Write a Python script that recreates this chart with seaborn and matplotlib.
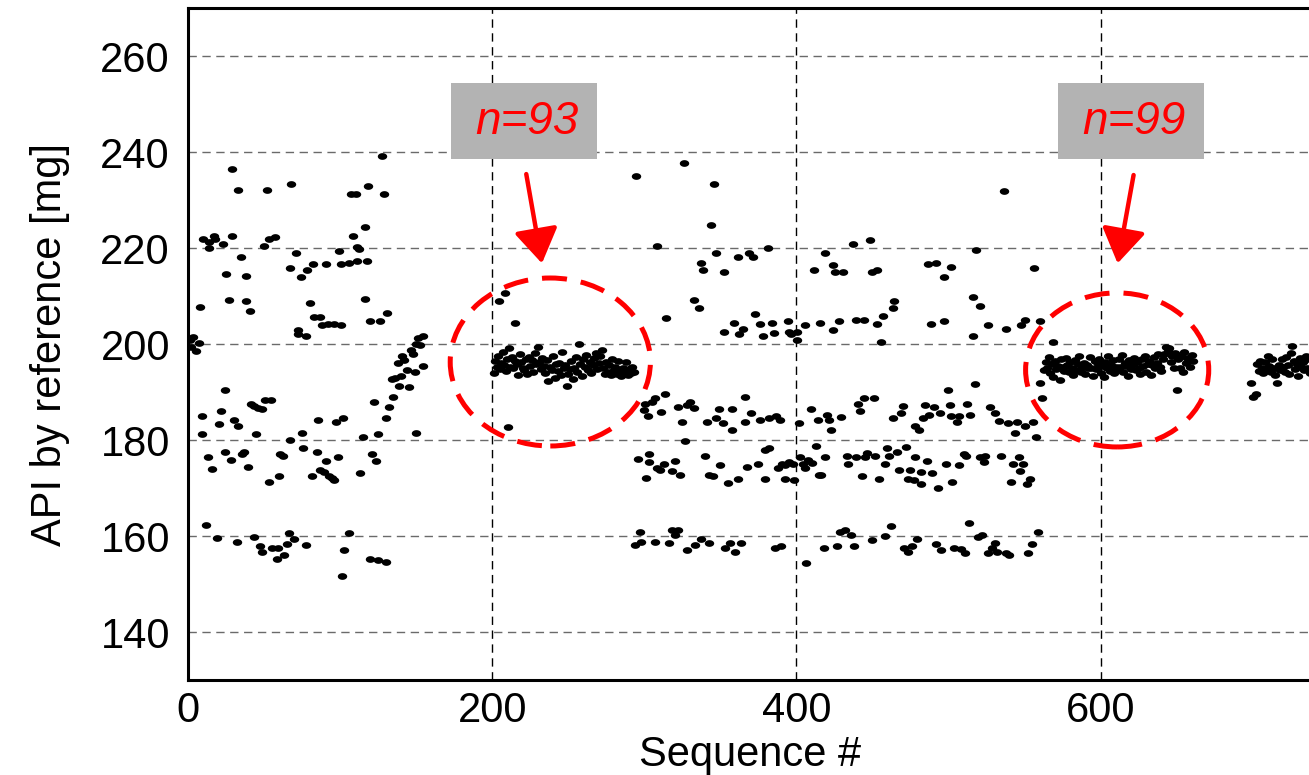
import numpy as np
import pandas as pd
import matplotlib
matplotlib.use("Agg")
import matplotlib.pyplot as plt
import matplotlib.path as mpath
from matplotlib.patches import Ellipse, Rectangle
import seaborn as sns

# ---------------- data: (sequence #, API mg) ----------------
run_start = [(1, 200.8), (2, 199.4), (3, 201.4), (5, 198.5), (7, 200.3)]

run_a_high = [(29, 236.5), (33, 232.1), (52, 232.1), (68, 233.3),
              (10, 221.9), (14, 221.3), (14, 220.1), (17, 222.4), (18, 221.9), (23, 220.8),
              (29, 222.5), (50, 220.5), (53, 221.8), (57, 222.2), (71, 219.0), (99.5, 219.4),
              (35, 218.1), (25, 214.5), (38, 214.2), (67, 215.8), (74, 214.0), (78.5, 215.5),
              (82, 216.7), (91, 216.7), (100.6, 216.7),
              (8, 207.8), (27, 209.2), (38, 209.0), (41, 206.8), (80, 208.6), (83, 205.6),
              (87, 205.6), (88, 203.9), (92, 204.2), (96, 204.2), (100.6, 203.9), (72.6, 202.9),
              (72.6, 202.0), (77.4, 201.7),
              (127.6, 239.2), (118.6, 233.0), (107, 231.2), (110.3, 231.2), (128.7, 231.2),
              (116.4, 224.4), (108.8, 222.5), (111.2, 220.3), (112.7, 219.7), (106.1, 216.8),
              (111.4, 217.2), (117.8, 217.2), (116.4, 209.4), (131.1, 206.5), (119.9, 204.7),
              (126.3, 204.7)]

run_a_rise = [(154.2, 201.7), (151.5, 201.2), (152.8, 199.7), (149.8, 200.0), (146.7, 198.8),
              (148, 197.9), (140.6, 197.4), (141.7, 196.7), (137.9, 196.1), (143.8, 194.6),
              (149.3, 194.2), (154.2, 195.4), (139.9, 193.3), (136.2, 193.0), (134, 192.8),
              (138.8, 191.3), (145.4, 191.1), (135.1, 188.9), (122.6, 188.0), (132.4, 186.8),
              (130, 184.5), (115.1, 180.6), (124.8, 181.2), (150.2, 181.4)]

run_a_low = [(24, 190.4), (9, 185.1), (9.4, 181.2), (21.7, 186.1), (20.4, 183.3), (30.5, 184.2),
             (33, 182.9), (41.4, 187.6), (43.4, 187.1), (46.2, 186.6), (48.4, 186.4), (50.6, 188.4),
             (54.6, 188.4), (44.5, 181.2), (67.3, 180.0), (74.8, 181.4), (85.7, 184.2), (97.1, 183.8),
             (102.2, 184.5),
             (12.9, 176.4), (15.5, 174.0), (24.3, 177.4), (28, 175.8), (35.7, 177.1), (37, 177.6),
             (39.2, 174.4), (53.5, 171.3), (59.8, 172.6), (60.7, 177.1), (62.5, 176.7), (75.8, 178.3),
             (84.6, 177.4), (91, 175.6), (81.8, 172.6), (86.8, 173.8), (89.7, 173.4), (92.7, 172.5),
             (94.5, 172.0), (95.8, 171.7), (98.4, 176.4), (121.3, 177.0), (123.9, 175.6), (113.4, 173.2),
             (11.6, 162.2), (19.3, 159.5), (32, 158.8), (43.4, 159.7), (47.3, 158.0), (48.4, 156.7),
             (55.5, 157.6), (59, 157.6), (58.3, 155.3), (63.4, 156.1), (64.9, 158.3), (66.2, 160.6),
             (69.7, 159.4), (77.4, 158.2), (102.8, 157.1), (101.1, 151.7), (106.1, 160.6),
             (119.7, 155.3), (124.8, 155.0), (130, 154.6)]

run_b_extra = [(208.1, 210.7), (204.2, 208.9), (214.7, 204.4), (210.3, 182.8)]

# consistent series 1 (n=93), sequence 201..293
cluster1_seq = list(range(201, 294))
cluster1_api = [193.9, 196.5, 195.2, 197.6, 194.8, 196.1, 198.3, 195.7, 194.4, 196.9,
                199.1, 195.3, 197.2, 194.9, 196.4, 195.8, 193.6, 197.9, 196.2, 195.1,
                194.5, 196.8, 193.7, 197.3, 195.5, 196.6, 194.2, 198.1, 195.9, 199.3,
                196.3, 194.7, 197.0, 195.4, 193.9, 196.7, 192.3, 195.2, 194.6, 197.4,
                193.0, 195.8, 194.3, 196.1, 193.5, 198.4, 194.9, 195.6, 191.2, 193.8,
                194.8, 196.4, 192.8, 195.1, 197.2, 194.2, 200.0, 195.9, 193.4, 196.9,
                195.3, 197.8, 194.5, 196.2, 193.9, 195.7, 197.1, 198.2, 194.8, 196.0,
                197.6, 198.7, 195.0, 193.8, 196.3, 194.1, 195.6, 193.5, 196.8, 194.6,
                195.2, 193.7, 196.5, 194.3, 193.4, 195.1, 194.0, 196.2, 193.6, 194.7,
                193.9, 195.3, 194.2]

run_c = [(325.9, 237.8), (294.7, 234.9), (346, 233.3), (343.6, 224.7), (308.5, 220.5), (347.4, 219.0),
         (337.5, 216.9), (338.6, 215.5), (352.4, 215.1), (361.4, 218.1), (368.6, 219.0), (371.5, 218.1),
         (381.4, 219.9), (332.5, 209.2), (336.2, 207.4), (314.3, 205.5), (372.6, 206.2), (358.8, 204.4),
         (352.4, 202.6), (364.7, 203.2), (362.5, 202.0), (376.3, 204.1), (384, 204.4), (377.9, 201.7),
         (385.3, 202.3), (394.3, 204.7), (395, 202.6), (396.7, 202.0),
         (300.2, 187.6), (300, 186.2), (302.4, 185.0), (305, 188.0), (306.8, 188.7), (311.2, 185.9),
         (313.8, 189.5), (322.1, 186.8), (324.8, 183.8), (328.1, 187.3), (330.3, 188.0), (332.5, 186.6),
         (341.2, 183.8), (347.1, 184.5), (348.9, 186.5), (351.5, 183.6), (357.7, 186.5), (357.7, 182.1),
         (366.4, 188.9), (366.4, 183.8), (370.4, 185.7), (376.3, 184.2), (381.8, 184.5), (386.6, 185.1),
         (389, 184.2), (327, 179.7),
         (295.8, 176.0), (303.3, 177.1), (303.3, 175.5), (308.3, 174.1), (310.1, 173.7), (312.7, 175.1),
         (301.1, 172.0), (320, 175.6), (318.2, 173.6), (323.2, 172.8), (339.7, 176.7), (342.3, 172.8),
         (345, 172.5), (350, 174.7), (355, 171.0), (361.6, 171.9), (367.5, 174.4), (374.6, 174.9),
         (379.2, 177.9), (382.2, 178.3), (379.2, 171.9), (387.7, 174.1), (390.6, 175.1), (392.8, 171.9),
         (398.2, 171.7),
         (297.4, 160.9), (294.1, 158.1), (298, 158.8), (307.2, 158.8), (316, 158.5), (318.2, 161.3),
         (322.1, 161.3), (320.4, 160.3), (328.1, 157.1), (333.6, 158.1), (337.5, 159.4), (342.3, 158.5),
         (353.3, 157.6), (356.6, 158.5), (359.9, 156.7), (363.8, 158.5), (386.2, 157.6), (390.1, 157.9)]

run_d = [(448.3, 221.7), (436.9, 220.8), (419.1, 219.0), (411.7, 215.5), (424.2, 216.4), (425.3, 215.1),
         (430.5, 215.1), (449.4, 214.9), (453.1, 215.5), (486.7, 216.7), (491.9, 216.9), (501.8, 216.0),
         (497, 214.0), (464.3, 209.0), (463.2, 207.4), (457.1, 205.9), (405.5, 203.9), (415.2, 204.4),
         (424.2, 202.9), (427.9, 204.7), (438.9, 205.0), (444.6, 205.0), (453.1, 204.1), (400.5, 202.4),
         (400.3, 200.8), (455.7, 200.5), (488.2, 204.1), (497, 204.7),
         (401.6, 183.6), (409.9, 186.5), (413.9, 184.2), (420.2, 185.3), (421.3, 184.2), (422.8, 182.1),
         (429.2, 184.8), (440.2, 187.5), (441.5, 186.0), (444.6, 188.7), (450.7, 188.7), (463.4, 184.5),
         (468.5, 185.7), (470, 187.0), (478.3, 183.0), (480.5, 182.1), (483.1, 184.5), (484.5, 187.2),
         (487.1, 185.3), (490.8, 186.8), (494.3, 185.7), (499.6, 190.4), (500.7, 187.2), (501.8, 184.9),
         (392.8, 174.8), (395, 175.5), (397.6, 175.1), (402.7, 176.4), (404.2, 175.0), (405.5, 174.1),
         (407.7, 175.8), (410.3, 175.3), (413, 178.8), (414.7, 172.8), (416.5, 172.8), (419.1, 176.4),
         (433, 176.7), (434.1, 175.0), (439.3, 176.4), (443.2, 172.6), (445.4, 176.4), (446.5, 177.2),
         (452, 176.7), (454.6, 171.9), (458.2, 175.1), (459.7, 178.3), (461.2, 176.7), (466, 177.6),
         (467.4, 173.8), (472.2, 178.5), (474.6, 173.8), (473.3, 171.9), (477, 171.7), (478.3, 176.4),
         (482, 173.4), (482, 170.8), (486, 175.6), (489.3, 173.2), (493.2, 170.1), (498.3, 175.0),
         (502.4, 171.3),
         (406.4, 154.4), (418, 157.6), (426.8, 158.0), (429, 160.9), (431.8, 161.3), (435.8, 160.3),
         (438, 158.0), (449.4, 159.2), (458.2, 160.0), (462.1, 162.1), (470.7, 157.6), (473.5, 156.7),
         (476.1, 158.0), (479.6, 159.4), (491.9, 158.3), (495.4, 157.1), (503.5, 157.6)]

run_e = [(536.2, 231.8), (518.4, 219.6), (556.1, 215.8), (516, 209.7), (520.8, 208.0), (526.1, 203.9),
         (537.5, 203.2), (547.6, 203.9), (550.2, 205.0), (560.1, 204.7), (516, 201.7), (568.4, 200.5),
         (517.3, 191.6), (512, 187.6), (514.2, 185.3), (506.8, 185.0), (505.7, 183.8), (527, 186.8),
         (530.9, 185.7), (533.5, 184.0), (539.2, 183.6), (544.9, 183.8), (550.2, 182.9), (555.5, 183.8),
         (543.6, 181.4), (557.6, 180.7), (561.2, 188.7), (560.1, 191.8),
         (507.2, 174.7), (510.1, 177.1), (511.2, 176.7), (520.6, 176.4), (523.9, 176.7), (523.2, 175.5),
         (534.8, 176.7), (541, 171.3), (542.5, 175.0), (546.7, 173.5), (546.2, 176.4), (548.9, 175.1),
         (551.3, 170.8), (553.9, 171.9),
         (513.4, 162.8), (519.5, 159.7), (522.1, 160.3), (507.9, 157.2), (510.7, 156.5), (526.1, 156.5),
         (528.3, 157.6), (530.5, 158.5), (532, 156.7), (537.5, 156.4), (539.7, 156.0), (552.4, 156.5),
         (555, 158.3), (558.7, 160.9)]

# consistent series 2 (n=99), sequence 563..661
cluster2_seq = list(range(563, 662))
cluster2_api = [194.6, 196.2, 195.1, 197.3, 194.0, 195.8, 193.2, 196.5, 194.8, 195.4,
                192.5, 196.9, 195.2, 194.3, 197.0, 195.6, 194.1, 196.3, 195.0, 193.6,
                196.7, 194.5, 195.9, 197.4, 194.2, 195.3, 196.1, 193.8, 195.7, 194.9,
                197.2, 195.1, 193.4, 196.4, 194.7, 195.8, 196.9, 194.0, 195.4, 193.1,
                196.2, 195.0, 197.5, 194.4, 195.7, 196.6, 193.9, 195.3, 194.6, 196.8,
                195.2, 197.8, 194.1, 196.0, 195.5, 193.3, 196.7, 194.8, 195.9, 197.1,
                194.5, 196.3, 195.1, 193.7, 196.8, 195.4, 197.6, 194.2, 195.8, 196.5,
                193.5, 195.6, 197.2, 194.9, 196.1, 198.0, 195.3, 194.4, 196.9, 197.9,
                199.3, 198.6, 199.1, 196.2, 197.4, 195.0, 198.2, 190.4, 196.8, 194.9,
                197.5, 194.2, 198.4, 196.1, 197.0, 196.6, 195.2, 197.8, 196.4]

# third series (partly outside the view)
cluster3_seq = [699, 700, 702] + list(range(703, 739))
cluster3_api = [191.8, 188.9, 189.6,
                195.8, 194.3, 196.5, 195.1, 193.9, 196.2, 194.8, 197.5, 195.4, 194.2,
                196.8, 195.0, 193.6, 191.8, 195.7, 194.5, 196.9, 195.3, 194.1, 197.2,
                195.6, 193.8, 198.1, 199.6, 196.4, 194.7, 195.9, 193.4, 197.0, 195.2,
                196.3, 194.6, 197.4, 195.1, 196.8, 194.0]

y_ticks = [140, 160, 180, 200, 220, 240, 260]
x_ticks = [0, 200, 400, 600]

# ---------------- assemble ----------------
pairs = run_start + run_a_high + run_a_rise + run_a_low + run_b_extra + run_c + run_d + run_e
seq = [p[0] for p in pairs] + cluster1_seq + cluster2_seq + cluster3_seq
api = [p[1] for p in pairs] + cluster1_api + cluster2_api + cluster3_api
df = pd.DataFrame({"Sequence #": seq, "API": api})

sns.set_theme(style="white")
plt.rcParams["font.family"] = ["Liberation Sans", "DejaVu Sans"]
plt.rcParams["text.color"] = "black"
plt.rcParams["axes.labelcolor"] = "black"

fig = plt.figure(figsize=(13.09, 7.75), dpi=100)
ax = fig.add_axes([188 / 1309, 1 - 680 / 775, 1124 / 1309, 672 / 775])

t = np.linspace(0, 2 * np.pi, 48)
ell_marker = mpath.Path(np.column_stack([1.4 * np.cos(t), np.sin(t)]), closed=True)

sns.scatterplot(data=df, x="Sequence #", y="API", color="black", marker=ell_marker,
                s=46, linewidth=0, ax=ax, zorder=3, legend=False)

ax.set_xlim(0, 739)
ax.set_ylim(130, 270)
ax.set_xticks(x_ticks)
ax.set_yticks(y_ticks)
ax.set_xticklabels([str(v) for v in x_ticks])
ax.set_yticklabels([str(v) for v in y_ticks])

for s in ["left", "top", "bottom", "right"]:
    ax.spines[s].set_color("black")
    ax.spines[s].set_linewidth(2.2)
ax.tick_params(axis="both", direction="in", length=8, width=1.8, color="black",
               labelsize=30, labelcolor="black")
ax.tick_params(axis="y", pad=13)
ax.tick_params(axis="x", pad=8)

ax.yaxis.grid(True, color="#6a6a6a", linestyle=(0, (6, 4)), linewidth=1.0)
ax.xaxis.grid(True, color="black", linestyle=(0, (6, 4)), linewidth=1.0)
ax.set_axisbelow(True)

ax.set_xlabel("Sequence #", fontsize=30, labelpad=3, color="black")
ax.set_ylabel("API by reference [mg]", fontsize=30, labelpad=22, color="black")

# annotations
ax.add_patch(Ellipse((238.2, 196.25), 131.6, 35, fill=False, edgecolor="red",
                     linewidth=3.6, linestyle=(0, (5, 2.8)), zorder=4))
ax.add_patch(Ellipse((610.9, 194.6), 120.4, 32.1, fill=False, edgecolor="red",
                     linewidth=3.6, linestyle=(0, (5, 2.8)), zorder=4))

for (x0, x1), label, (tx, ty), (ex, ey) in [((173.0, 269.1), "n=93", (222.4, 235.4), (232.7, 216.8)),
                                            ((571.7, 667.8), "n=99", (621.7, 235.2), (611.2, 216.8))]:
    ax.add_patch(Rectangle((x0, 238.5), x1 - x0, 15.9, facecolor="#b3b3b3",
                           edgecolor="none", zorder=5))
    ax.text((x0 + x1) / 2 + 2, 246.2, label, color="red", fontsize=33, fontstyle="italic",
            ha="center", va="center", zorder=6)
    ax.annotate("", xy=(ex, ey), xytext=(tx, ty),
                arrowprops=dict(arrowstyle="-|>,head_length=0.7,head_width=0.45",
                                color="red", lw=3.2, shrinkA=0, shrinkB=0,
                                mutation_scale=30), zorder=6)

fig.savefig("out.png", dpi=100)
